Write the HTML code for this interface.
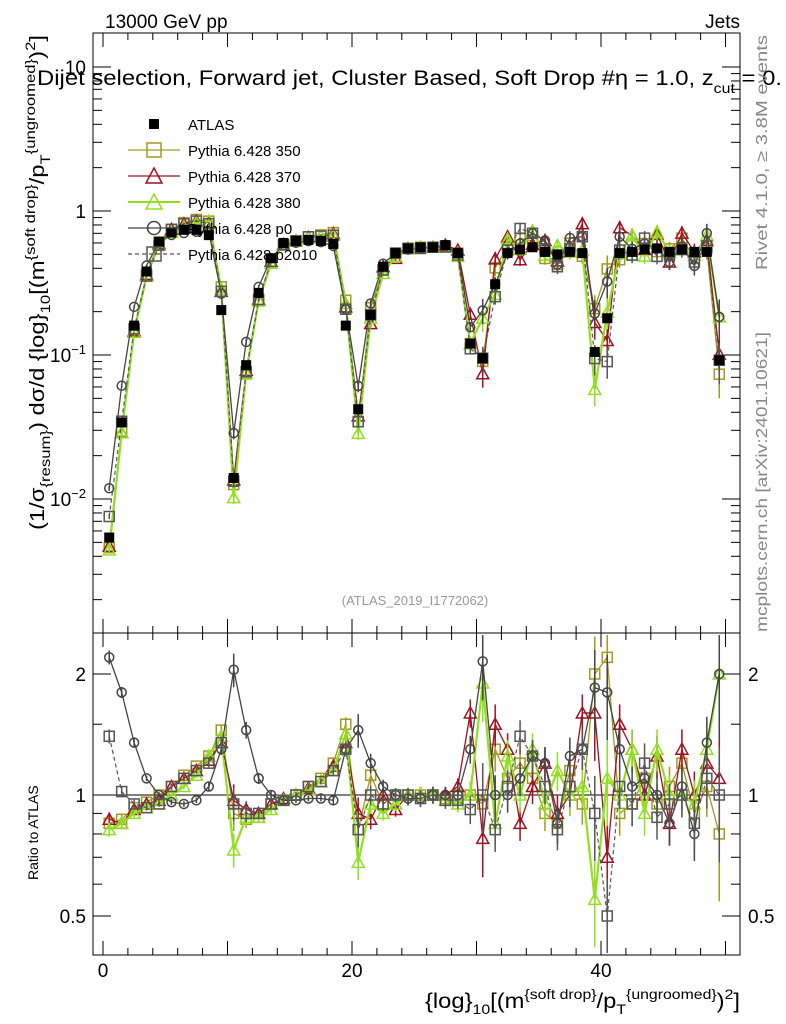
<!DOCTYPE html>
<html><head><meta charset="utf-8"><style>
body{margin:0;background:#fff;}
svg{display:block;font-family:"Liberation Sans",sans-serif;}
</style></head><body>
<svg id="c" width="786" height="1024" viewBox="0 0 786 1024">
<rect x="0" y="0" width="786" height="1024" fill="#fff"/>
<text x="105" y="28" font-size="19">13000 GeV pp</text>
<text x="740" y="28" font-size="19" text-anchor="end">Jets</text>
<text x="37" y="85" font-size="21" textLength="745" lengthAdjust="spacingAndGlyphs">Dijet selection, Forward jet, Cluster Based, Soft Drop #η = 1.0, z<tspan font-size="14" dy="8">cut</tspan><tspan dy="-8"> = 0.</tspan></text>
<text transform="translate(767,270) rotate(-90)" font-size="16" fill="#888" textLength="235" lengthAdjust="spacingAndGlyphs">Rivet 4.1.0, ≥ 3.8M events</text>
<text transform="translate(767,632) rotate(-90)" font-size="16" fill="#888" textLength="300" lengthAdjust="spacingAndGlyphs">mcplots.cern.ch [arXiv:2401.10621]</text>
<text x="415" y="605" font-size="13" fill="#999" text-anchor="middle">(ATLAS_2019_I1772062)</text>
<text transform="translate(44,530) rotate(-90)" font-size="20" textLength="495" lengthAdjust="spacingAndGlyphs">(1/σ<tspan font-size="14" dy="6">{resum}</tspan><tspan dy="-6">) dσ/d {log}</tspan><tspan font-size="14" dy="6">10</tspan><tspan dy="-6">[(m</tspan><tspan font-size="14" dy="-9">{soft drop}</tspan><tspan dy="9">/p</tspan><tspan font-size="14" dy="6">T</tspan><tspan font-size="14" dy="-15">{ungroomed}</tspan><tspan dy="9">)</tspan><tspan font-size="14" dy="-9">2</tspan><tspan dy="9">]</tspan></text>
<text transform="translate(38,880) rotate(-90)" font-size="14" text-anchor="start">Ratio to ATLAS</text>
<text x="740" y="1008" font-size="21" text-anchor="end" textLength="315" lengthAdjust="spacingAndGlyphs">{log}<tspan font-size="14" dy="6">10</tspan><tspan dy="-6">[(m</tspan><tspan font-size="14" dy="-9">{soft drop}</tspan><tspan dy="9">/p</tspan><tspan font-size="14" dy="6">T</tspan><tspan font-size="14" dy="-15">{ungroomed}</tspan><tspan dy="9">)</tspan><tspan font-size="14" dy="-9">2</tspan><tspan dy="9">]</tspan></text>
<g id="plot"></g>
</svg>
<script>
const atlas=[0.0054,0.034,0.16,0.38,0.61,0.71,0.74,0.74,0.68,0.205,0.014,0.085,0.27,0.47,0.6,0.62,0.63,0.62,0.59,0.16,0.042,0.19,0.41,0.51,0.55,0.56,0.56,0.58,0.51,0.12,0.095,0.31,0.51,0.54,0.56,0.52,0.5,0.52,0.51,0.105,0.18,0.51,0.52,0.54,0.55,0.52,0.54,0.52,0.52,0.092];
const ratioP0=[2.2,1.8,1.35,1.1,1.0,0.96,0.95,0.97,1.05,1.3,2.05,1.45,1.1,1.0,0.97,0.97,0.98,0.98,0.97,1.3,1.45,1.2,1.05,1.0,0.98,0.98,1.0,1.0,1.0,1.3,2.15,1.0,1.0,1.1,1.25,1.2,0.85,1.25,1.3,1.85,1.8,1.3,1.05,1.1,1.0,0.85,1.05,0.8,1.35,2.0];
const ratioP2010=[1.4,1.02,0.95,0.93,0.95,1.05,1.1,1.15,1.2,1.35,0.95,0.9,0.9,0.95,0.97,1.0,1.05,1.08,1.15,1.3,0.82,1.0,0.95,1.0,1.0,0.98,1.0,0.97,0.97,0.92,1.0,0.82,1.05,1.4,1.25,1.05,0.82,1.05,1.3,0.9,0.5,1.05,0.95,1.2,0.88,0.95,1.0,0.85,1.1,1.0];
const ratio350=[0.85,0.87,0.93,0.96,1.0,1.05,1.12,1.18,1.25,1.45,0.9,0.87,0.88,0.95,0.97,1.0,1.05,1.1,1.2,1.5,0.82,1.12,0.95,1.0,1.0,1.0,1.0,0.98,1.0,1.0,0.95,1.3,1.1,1.2,1.1,0.9,0.85,1.15,0.95,2.0,2.2,0.9,0.95,1.1,0.95,1.05,1.2,0.9,1.05,0.8];
const ratio370=[0.87,0.85,0.92,0.95,0.97,1.05,1.1,1.15,1.22,1.35,0.97,0.92,0.9,0.95,0.98,1.0,1.04,1.08,1.18,1.35,0.9,0.87,1.0,0.92,1.0,1.0,1.0,1.0,1.05,1.6,0.78,1.5,1.3,0.85,1.05,1.2,0.9,1.0,1.6,1.6,0.7,1.5,1.3,1.0,1.25,0.85,1.3,1.0,1.2,1.1];
const ratio380=[0.82,0.85,0.9,0.93,0.95,1.0,1.05,1.12,1.25,1.4,0.73,0.88,0.88,0.92,0.97,1.0,1.03,1.08,1.15,1.42,0.68,0.95,0.9,0.95,1.0,1.0,1.0,0.97,0.95,1.0,1.9,0.85,1.25,1.0,1.3,0.95,1.15,1.0,1.05,0.55,1.1,1.0,1.3,0.9,1.3,1.0,1.0,0.95,1.3,2.0];
const errFrac=[0.05,0.04,0.03,0.02,0.02,0.02,0.02,0.02,0.03,0.04,0.12,0.06,0.04,0.03,0.02,0.02,0.02,0.02,0.03,0.05,0.12,0.07,0.05,0.05,0.05,0.06,0.06,0.06,0.06,0.1,0.25,0.15,0.12,0.12,0.12,0.12,0.14,0.14,0.14,0.3,0.3,0.15,0.15,0.15,0.15,0.15,0.15,0.18,0.2,0.4];
const xTickLabels=[0,20,40];
const mainTickLabels=[[1,"1"],[0.1,"10<tspan font-size='13' dy='-8'>−1</tspan>"],[0.01,"10<tspan font-size='13' dy='-8'>−2</tspan>"],[10,"10"]];
const ratioTickLabels=[0.5,1,2];

const NS="http://www.w3.org/2000/svg";
const L=93,R=740,T=33,MB=633,RB=955;
const X=v=>103+12.45*v;
const Ym=v=>211-144*Math.log10(v);
const Yr=v=>795-121*Math.log2(v);
const g=document.getElementById('plot');
function el(tag,attrs,parent){const e=document.createElementNS(NS,tag);for(const k in attrs)e.setAttribute(k,attrs[k]);(parent||g).appendChild(e);return e;}

let f=el('rect',{x:L,y:T,width:R-L,height:MB-T,fill:'none',stroke:'#000','stroke-width':1});


f=el('rect',{x:L,y:MB,width:R-L,height:RB-MB,fill:'none',stroke:'#000','stroke-width':1});


let ln=el('line',{x1:L,x2:R,y1:Yr(1),y2:Yr(1),stroke:'#000'});



for(let v=0;v<=50;v+=2){const big=v%10==0;
 for(const [yb,yt] of [[MB,T],[RB,MB]]){
  el('line',{x1:X(v),x2:X(v),y1:yb,y2:yb-(big?14:7),stroke:'#000'});
  el('line',{x1:X(v),x2:X(v),y1:yt,y2:yt+(big?14:7),stroke:'#000'});
 }}
xTickLabels.forEach(v=>{const t=el('text',{x:X(v),y:977,'font-size':19,'text-anchor':'middle'});t.textContent=v;

});
for(let d=-3;d<=1;d++)for(let m=1;m<10;m++){const v=m*Math.pow(10,d);const y=Ym(v);if(y<T||y>MB)continue;
 const w=m==1?18:9;el('line',{x1:L,x2:L+w,y1:y,y2:y,stroke:'#000'});el('line',{x1:R,x2:R-w,y1:y,y2:y,stroke:'#000'});}
mainTickLabels.forEach(([v,s])=>{const t=el('text',{x:86,y:Ym(v)+7,'font-size':19,'text-anchor':'end'});t.innerHTML=s;

});
[0.5,0.6,0.7,0.8,0.9,1,1.5,2].forEach(v=>{const y=Yr(v);const w=(v==0.5||v==1||v==2)?18:9;
 el('line',{x1:L,x2:L+w,y1:y,y2:y,stroke:'#000'});el('line',{x1:R,x2:R-w,y1:y,y2:y,stroke:'#000'});});
ratioTickLabels.forEach(v=>{for(const [x,a] of [[86,'end'],[748,'start']]){const t=el('text',{x:x,y:Yr(v)+7,'font-size':19,'text-anchor':a});t.textContent=v;

}});

const series=[
 {name:'pythia-350',r:ratio350,col:'#a09a1e',mk:'sq',dash:'',w:1.3},
 {name:'pythia-370',r:ratio370,col:'#a01020',mk:'tri',dash:'',w:1.3},
 {name:'pythia-380',r:ratio380,col:'#90e020',mk:'tri',dash:'',w:2.2},
 {name:'pythia-p0',r:ratioP0,col:'#444',mk:'circ',dash:'',w:1.3},
 {name:'pythia-p2010',r:ratioP2010,col:'#555',mk:'sq',dash:'4,3',w:1.2}];
function marker(mk,x,y,col,parent,s){s=s||5;
 if(mk=='sq')return el('rect',{x:x-s,y:y-s,width:2*s,height:2*s,fill:'none',stroke:col,'stroke-width':1.5},parent);
 if(mk=='tri')return el('polygon',{points:`${x},${y-s-1} ${x-s-1},${y+s} ${x+s+1},${y+s}`,fill:'none',stroke:col,'stroke-width':1.5},parent);
 if(mk=='circ')return el('circle',{cx:x,cy:y,r:s-0.5,fill:'none',stroke:col,'stroke-width':1.5},parent);
 return el('rect',{x:x-s,y:y-s,width:2*s,height:2*s,fill:'#000'},parent);}
const clipR=Y=>Math.max(MB+2,Math.min(RB-2,Y));
series.forEach(s=>{
 const gg=el('g',{});
 
 
 const pm=[],pr=[];
 atlas.forEach((a,i)=>{const v=a*s.r[i];pm.push(X(i+0.5)+','+Ym(v));pr.push(X(i+0.5)+','+clipR(Yr(s.r[i])));});
 el('polyline',{points:pm.join(' '),fill:'none',stroke:s.col,'stroke-width':s.w,'stroke-dasharray':s.dash},gg);
 el('polyline',{points:pr.join(' '),fill:'none',stroke:s.col,'stroke-width':s.w,'stroke-dasharray':s.dash},gg);
 atlas.forEach((a,i)=>{const x=X(i+0.5),v=a*s.r[i],e=errFrac[i]*0.8;
  el('line',{x1:x,x2:x,y1:Ym(v*(1+e)),y2:Ym(v*(1-e)),stroke:s.col,'stroke-width':1.5},gg);
  el('line',{x1:x,x2:x,y1:clipR(Yr(s.r[i]*(1+e))),y2:clipR(Yr(s.r[i]*(1-e))),stroke:s.col,'stroke-width':1.5},gg);
  marker(s.mk,x,Ym(v),s.col,gg);
  const yr=Yr(s.r[i]);if(yr>MB&&yr<RB)marker(s.mk,x,yr,s.col,gg);});
});
const ga=el('g',{});


atlas.forEach((a,i)=>{const x=X(i+0.5);marker('data',x,Ym(a),'#000',ga,5);});

const leg=[['ATLAS','data','#000',''],['Pythia 6.428 350','sq','#a09a1e',''],['Pythia 6.428 370','tri','#a01020',''],['Pythia 6.428 380','tri','#90e020',''],['Pythia 6.428 p0','circ','#444',''],['Pythia 6.428 p2010','sq','#555','4,3']];
leg.forEach((l,i)=>{const y=124+26*i;const lg=el('g',{});
 
 
 if(i>0)el('line',{x1:128,x2:180,y1:y,y2:y,stroke:l[2],'stroke-width':i==3?2:1.3,'stroke-dasharray':l[3]},lg);
 marker(l[1],154,y,l[2],lg,i==0?5:7);
 const t=el('text',{x:188,y:y+6,'font-size':15},lg);t.textContent=l[0];});
</script>
</body></html>
